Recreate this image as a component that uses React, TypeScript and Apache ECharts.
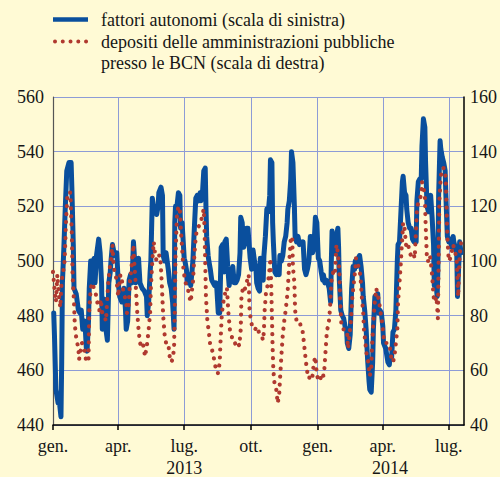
import React, { useEffect, useRef } from 'react';
import * as echarts from 'echarts';

// Dates are stored as day offsets from 1 January 2013
const startDate = '2013-01-01';
const lastAxisDay = 567;

// Quarterly ticks and their labels
const quarterDates = ['2013-01-01', '2013-04-01', '2013-07-01', '2013-10-01', '2014-01-01', '2014-04-01', '2014-07-01'];
const quarterLabels = ['gen.', 'apr.', 'lug.', 'ott.', 'gen.', 'apr.', 'lug.'];
const yearDates = ['2013-07-01', '2014-04-11'];
const yearLabels = ['2013', '2014'];

// fattori autonomi (left scale, billions of euro): [day, value]
const fattori: [number, number][] = [
  [1,481],[2,473],[4,453],[7,448],[9,448],[11,443],[12,463],[13,492],[15,505],[17,520],[19,533],[22,536],[25,536],[26,527],[28,506],[29,490],[32,488],[35,482],[37,481],[39,482],[41,475],[44,478],[46,468],[47,467],[49,478],[50,490],[52,500],[53,492],[55,500],[57,501],[58,492],[60,502],[63,508],[65,503],[67,492],[68,475],[71,486],[73,475],[75,471],[77,492],[79,496],[80,500],[82,506],[85,502],[88,503],[90,492],[92,487],[95,485],[98,490],[100,482],[101,475],[103,478],[105,493],[107,495],[109,492],[111,507],[112,503],[114,492],[116,495],[118,501],[120,492],[123,490],[126,489],[129,487],[130,480],[132,485],[134,496],[135,500],[137,523],[139,519],[141,520],[143,517],[145,520],[146,525],[149,527],[151,524],[152,502],[154,500],[156,503],[157,501],[159,497],[161,492],[163,490],[165,485],[167,475],[168,514],[169,520],[171,520],[173,525],[175,524],[176,512],[178,514],[179,510],[181,501],[182,500],[184,497],[186,492],[188,495],[190,491],[192,497],[193,500],[195,512],[197,523],[199,524],[201,522],[203,525],[204,522],[206,524],[208,533],[210,534],[211,520],[212,509],[214,502],[215,500],[217,497],[219,493],[221,492],[223,491],[225,492],[226,490],[228,481],[230,481],[232,505],[234,506],[236,496],[237,507],[239,508],[241,498],[243,491],[245,495],[247,496],[248,498],[250,492],[252,492],[254,493],[256,495],[258,503],[259,516],[261,514],[263,505],[265,507],[267,512],[269,512],[270,508],[272,501],[274,497],[276,504],[278,500],[280,497],[281,492],[283,490],[285,489],[286,501],[288,500],[290,493],[291,502],[293,509],[295,519],[297,518],[299,524],[300,537],[302,536],[303,514],[304,507],[306,496],[308,495],[310,497],[312,495],[313,502],[315,500],[317,502],[319,507],[321,509],[323,514],[324,519],[326,522],[328,530],[329,540],[331,536],[333,520],[334,509],[336,507],[338,509],[340,506],[342,507],[344,506],[345,507],[347,497],[349,495],[351,497],[353,500],[355,509],[356,509],[358,503],[360,505],[362,516],[364,514],[366,501],[368,500],[370,496],[372,493],[373,495],[375,492],[377,493],[379,492],[381,490],[383,485],[384,500],[385,511],[387,505],[389,503],[391,509],[393,512],[394,505],[395,493],[397,482],[399,480],[401,479],[403,476],[405,475],[406,470],[408,468],[410,473],[412,490],[414,498],[416,497],[417,500],[419,498],[421,501],[423,502],[425,498],[427,492],[428,487],[430,482],[432,475],[434,464],[436,456],[437,453],[439,452],[441,463],[442,475],[444,487],[446,485],[448,488],[449,481],[451,482],[453,481],[455,476],[456,470],[459,468],[462,463],[464,462],[465,465],[467,464],[469,474],[471,475],[473,482],[475,500],[476,506],[478,507],[480,518],[482,529],[483,531],[485,525],[487,524],[488,519],[490,514],[492,512],[494,512],[496,508],[498,507],[499,509],[501,507],[502,522],[504,529],[506,530],[508,530],[509,542],[511,552],[513,549],[514,536],[516,520],[518,518],[520,523],[521,524],[523,516],[525,506],[526,491],[528,493],[530,487],[531,497],[532,524],[534,544],[535,541],[537,538],[539,536],[541,533],[542,524],[544,509],[546,507],[548,508],[550,505],[552,509],[553,507],[555,505],[557,503],[558,487],[560,500],[561,507],[563,503]
];

// depositi delle amministrazioni pubbliche presso le BCN (right scale): [day, value]
const depositi: [number, number][] = [
  [0,96],[2,90],[4,85],[6,95],[8,88],[10,83],[12,93],[14,96],[16,100],[18,115],[20,125],[24,125],[26,110],[27,95],[29,85],[30,77],[32,72],[35,68],[36,64],[38,67],[40,70],[43,68],[46,63],[49,64],[50,82],[52,90],[54,92],[59,88],[61,85],[64,82],[66,86],[68,81],[71,80],[73,78],[76,91],[78,97],[80,100],[82,106],[84,97],[86,96],[88,92],[90,87],[91,90],[93,95],[95,93],[97,89],[99,87],[101,85],[102,81],[104,82],[106,92],[108,97],[110,103],[111,106],[112,100],[114,92],[116,82],[118,75],[120,70],[122,69],[124,70],[127,65],[130,70],[132,75],[134,81],[135,90],[137,100],[139,107],[141,102],[143,100],[145,101],[146,102],[148,102],[150,92],[152,80],[154,73],[156,70],[157,70],[159,70],[161,65],[163,63],[165,64],[167,68],[168,82],[169,102],[171,117],[173,120],[175,119],[177,109],[178,105],[180,97],[182,93],[184,91],[186,90],[188,87],[190,85],[192,90],[193,92],[195,102],[197,109],[199,112],[202,113],[204,114],[206,117],[208,119],[209,112],[210,100],[211,87],[213,78],[215,74],[217,69],[220,67],[223,63],[225,60],[226,59],[228,59],[230,63],[231,70],[233,81],[235,85],[237,87],[238,90],[240,90],[242,81],[244,75],[246,73],[248,71],[249,70],[251,70],[253,69],[255,70],[257,69],[259,75],[260,87],[262,90],[264,89],[266,91],[268,93],[270,95],[271,83],[273,78],[276,75],[279,75],[281,76],[284,74],[287,73],[290,71],[291,75],[292,82],[294,89],[296,91],[298,95],[300,101],[301,92],[302,80],[303,68],[304,60],[306,54],[308,53],[310,48],[312,51],[313,56],[315,65],[317,73],[319,78],[321,82],[323,87],[324,90],[326,100],[328,108],[330,109],[331,98],[333,92],[334,82],[336,78],[338,78],[340,78],[342,76],[344,75],[345,73],[347,68],[349,63],[351,59],[353,57],[355,58],[356,57],[358,58],[360,63],[362,65],[364,58],[366,57],[367,58],[369,57],[371,59],[373,58],[374,59],[376,67],[378,75],[380,76],[382,82],[384,92],[385,95],[387,96],[389,95],[391,106],[393,103],[395,97],[396,87],[398,76],[400,75],[402,75],[404,75],[406,73],[407,68],[409,73],[411,78],[413,87],[415,92],[417,97],[418,101],[420,100],[422,97],[424,95],[426,87],[428,81],[429,75],[431,70],[433,65],[435,63],[437,58],[439,60],[440,68],[442,78],[444,85],[446,90],[448,87],[450,86],[451,82],[453,80],[455,75],[457,70],[460,70],[463,70],[465,68],[467,64],[469,63],[471,65],[473,70],[475,75],[476,85],[478,92],[480,100],[481,105],[482,109],[483,114],[485,112],[487,106],[488,105],[490,106],[492,103],[494,102],[496,101],[498,102],[499,101],[500,107],[502,118],[504,122],[506,123],[508,124],[509,129],[511,127],[513,124],[514,114],[516,100],[518,100],[520,102],[521,100],[523,95],[525,87],[527,85],[529,87],[531,79],[532,100],[533,122],[535,131],[537,134],[539,134],[541,133],[542,129],[544,109],[546,100],[548,101],[550,103],[552,106],[553,105],[555,103],[557,100],[559,87],[561,102],[563,107]
];

const BLUE = '#0a4f9d';
const RED = '#b0392f';
const GRID = '#8d9bd6';
const BG = '#fffad5';
const TEXT = '#161616';
const FONT = "'Liberation Serif', 'Times New Roman', serif";
const FS = 18;
const DAY = 86400000;

export default function App() {
  const ref = useRef<HTMLDivElement>(null);
  useEffect(() => {
    const chart = echarts.init(ref.current as HTMLDivElement, null, { renderer: 'svg' });
    const base = Date.parse(startDate);
    const toTs = (d: number) => base + d * DAY;
    const quarterTs = quarterDates.map((s) => Date.parse(s));
    const yearTs = yearDates.map((s) => Date.parse(s));
    const qMap: Record<string, string> = {};
    quarterTs.forEach((t, i) => (qMap[String(t)] = quarterLabels[i]));
    const yMap: Record<string, string> = {};
    yearTs.forEach((t, i) => (yMap[String(t)] = yearLabels[i]));
    const xMin = base;
    const xMax = toTs(lastAxisDay);

    chart.setOption({
      animation: false,
      backgroundColor: BG,
      textStyle: { fontFamily: FONT },
      grid: { left: 53, right: 34, top: 97, bottom: 52 },
      xAxis: [
        {
          type: 'value',
          min: xMin,
          max: xMax,
          axisLine: { show: true, lineStyle: { color: '#000', width: 1.5 } },
          axisTick: { show: true, length: 5, customValues: quarterTs, lineStyle: { color: '#000', width: 1.5 } },
          axisLabel: {
            customValues: quarterTs,
            formatter: (v: number) => qMap[String(v)] ?? '',
            color: TEXT,
            fontSize: FS,
            fontFamily: FONT,
            margin: 12,
            hideOverlap: false,
          },
          splitLine: { show: true, lineStyle: { color: GRID, width: 1 } },
        },
        {
          type: 'value',
          min: xMin,
          max: xMax,
          position: 'bottom',
          axisLine: { show: false },
          axisTick: { show: false },
          splitLine: { show: false },
          axisLabel: {
            customValues: yearTs,
            formatter: (v: number) => yMap[String(v)] ?? '',
            color: TEXT,
            fontSize: FS,
            fontFamily: FONT,
            margin: 34,
            hideOverlap: false,
          },
        },
      ],
      yAxis: [
        {
          type: 'value',
          min: 440,
          max: 560,
          interval: 20,
          position: 'left',
          axisLine: { show: true, lineStyle: { color: '#555', width: 1.2 } },
          axisTick: { show: false },
          axisLabel: { color: TEXT, fontSize: FS, fontFamily: FONT, margin: 9 },
          splitLine: { show: true, lineStyle: { color: GRID, width: 1 } },
        },
        {
          type: 'value',
          min: 40,
          max: 160,
          interval: 20,
          position: 'right',
          axisLine: { show: true, lineStyle: { color: '#000', width: 1.5 } },
          axisTick: { show: false },
          axisLabel: { color: TEXT, fontSize: FS, fontFamily: FONT, margin: 6 },
          splitLine: { show: false },
        },
      ],
      series: [
        {
          type: 'line',
          name: 'fattori autonomi',
          xAxisIndex: 0,
          yAxisIndex: 0,
          symbol: 'none',
          data: fattori.map(([d, v]) => [toTs(d), v]),
          lineStyle: { color: BLUE, width: 5, join: 'round', cap: 'round' },
          z: 2,
        },
        {
          type: 'line',
          name: 'depositi',
          xAxisIndex: 0,
          yAxisIndex: 1,
          symbol: 'none',
          data: depositi.map(([d, v]) => [toTs(d), v]),
          lineStyle: { color: RED, width: 4.2, type: [0.01, 8], cap: 'round' },
          z: 3,
        },
      ],
      graphic: [
        { type: 'line', shape: { x1: 53, y1: 19.5, x2: 88, y2: 19.5 }, style: { stroke: BLUE, lineWidth: 4.5 } },
        { type: 'text', x: 101, y: 20, style: { text: 'fattori autonomi (scala di sinistra)', font: `${FS}px ${FONT}`, fill: TEXT, verticalAlign: 'middle' } },
        { type: 'line', shape: { x1: 55, y1: 41.5, x2: 87, y2: 41.5 }, style: { stroke: RED, lineWidth: 4, lineDash: [0.01, 7.75], lineCap: 'round' } },
        { type: 'text', x: 101, y: 41.5, style: { text: 'depositi delle amministrazioni pubbliche', font: `${FS}px ${FONT}`, fill: TEXT, verticalAlign: 'middle' } },
        { type: 'text', x: 101, y: 63, style: { text: 'presso le BCN (scala di destra)', font: `${FS}px ${FONT}`, fill: TEXT, verticalAlign: 'middle' } },
      ],
    });
    return () => chart.dispose();
  }, []);
  return <div ref={ref} style={{ position: 'fixed', left: 0, top: 0, width: 500, height: 477 }} />;
}
